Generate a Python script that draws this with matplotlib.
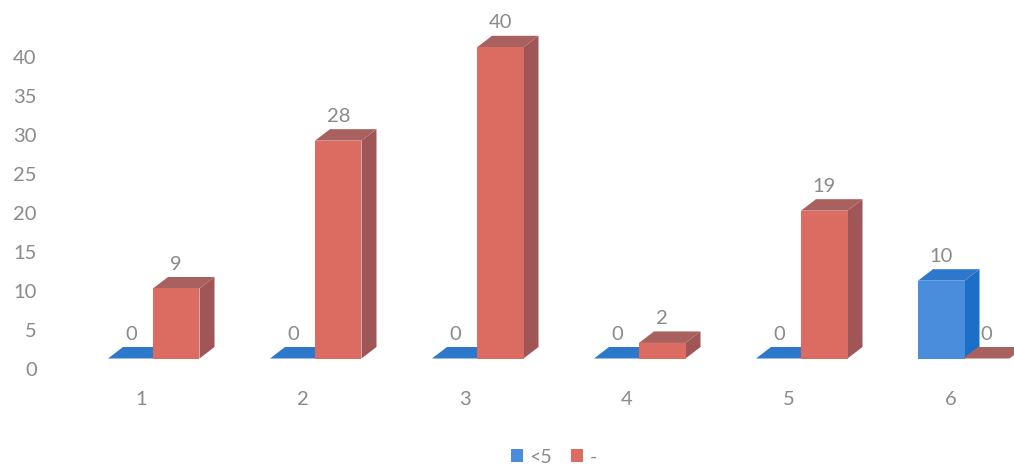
import matplotlib
matplotlib.use("Agg")
import matplotlib.pyplot as plt
from matplotlib.patches import Patch
from matplotlib.transforms import ScaledTranslation

categories = [1, 2, 3, 4, 5, 6]
series_names = ["<5", "-"]
blue_values = [0, 0, 0, 0, 0, 10]
red_values = [9, 28, 40, 2, 19, 0]
y_ticks = [0, 5, 10, 15, 20, 25, 30, 35, 40]

W, H = 1014, 465
plt.rcParams["font.family"] = ["Lato", "DejaVu Sans"]
GREY = "#8a8a8a"
FS = 14.5

fig = plt.figure(figsize=(W / 100, H / 100), dpi=100)
base_px = 358.5
left_px = 45
ax = fig.add_axes([left_px / W, (H - base_px) / H, (W - left_px) / W, base_px / H])
px_x = 162.0
px_y = 7.78
ax.set_xlim(1 - (141 - left_px) / px_x, 1 + (W - 141) / px_x)
ax.set_ylim(0, base_px / px_y)
for s in ax.spines.values():
    s.set_visible(False)
ax.patch.set_visible(False)

bar_w = 46.5 / px_x
dx = 15 / px_x
dy = 11.5 / px_y


def draw(values, offset, front, top, side, z):
    xs = [c + offset for c in categories]
    for x, v in zip(xs, values):
        ax.fill([x + bar_w, x + bar_w + dx, x + bar_w + dx, x + bar_w],
                [0, dy, v + dy, v], color=side, lw=0, zorder=z, clip_on=True)
        ax.fill([x, x + bar_w, x + bar_w + dx, x + dx],
                [v, v, v + dy, v + dy], color=top, lw=0, zorder=z, clip_on=True)
    ax.bar(xs, values, width=bar_w, align="edge", color=front, lw=0, zorder=z + 0.5)
    for x, v in zip(xs, values):
        ax.annotate(str(v), (x + bar_w / 2, v), xytext=(0, 17.5), textcoords="offset points",
                    ha="center", va="center", fontsize=FS, color=GREY, zorder=10,
                    annotation_clip=False)


draw(blue_values, -33 / px_x, "#4a8ddc", "#2e78cb", "#1c6fc6", 2)
draw(red_values, 12 / px_x, "#dc6c62", "#a9615f", "#a05656", 4)

ax.set_yticks(y_ticks)
ax.set_yticklabels([str(t) for t in y_ticks], fontsize=FS, color=GREY)
ax.set_xticks(categories)
ax.set_xticklabels([str(c) for c in categories], fontsize=FS, color=GREY)
ax.tick_params(axis="y", length=0, pad=6)
ax.tick_params(axis="x", length=0, pad=23.5)
shift = ScaledTranslation(0, -7.2 / 72, fig.dpi_scale_trans)
for lab in ax.get_yticklabels():
    lab.set_transform(lab.get_transform() + shift)

handles = [Patch(color="#4a8ddc", lw=0), Patch(color="#dc6c62", lw=0)]
fig.legend(handles, series_names, loc="center", bbox_to_anchor=(554 / W, 1 - 457 / H),
           ncol=2, frameon=False, fontsize=14, labelcolor=GREY, handlelength=0.62,
           handleheight=0.62, handletextpad=0.3, columnspacing=1.0,
           borderpad=0, borderaxespad=0)

fig.savefig("out.png", dpi=100)
